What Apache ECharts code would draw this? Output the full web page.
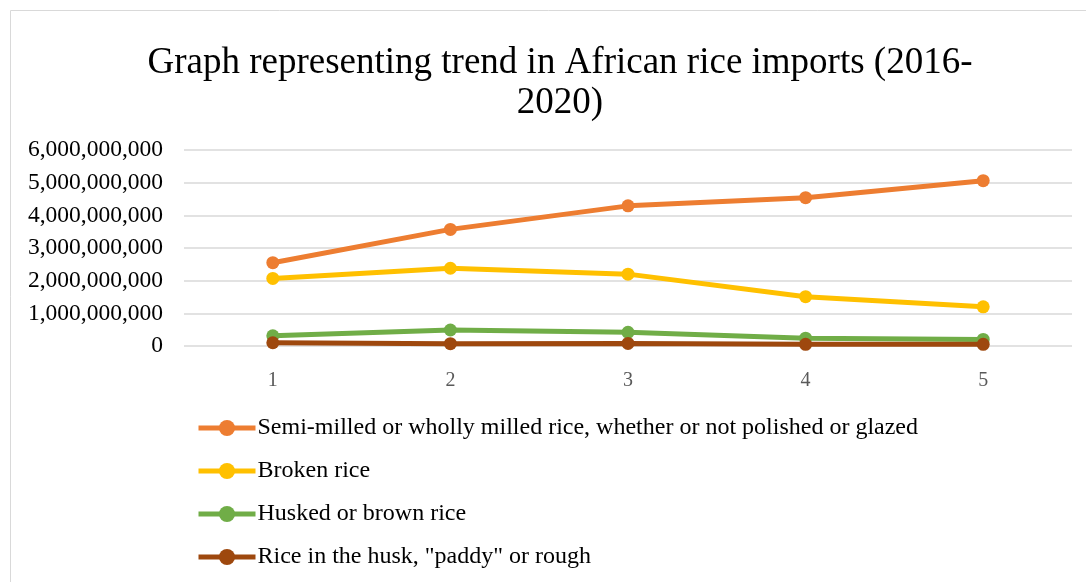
<!DOCTYPE html>
<html><head><meta charset="utf-8">
<script src="https://cdn.jsdelivr.net/npm/echarts@6/dist/echarts.min.js"></script>
<style>html,body{margin:0;padding:0;background:#fff}#c{width:1086px;height:582px}</style>
</head><body><div id="c"></div>
<script>
const categories = ['1','2','3','4','5'];
const seriesNames = [
  'Semi-milled or wholly milled rice, whether or not polished or glazed',
  'Broken rice',
  'Husked or brown rice',
  'Rice in the husk, "paddy" or rough'
];
const semiMilled = [2550000000, 3570000000, 4290000000, 4540000000, 5060000000];
const brokenRice = [2070000000, 2380000000, 2200000000, 1510000000, 1200000000];
const huskedRice = [310000000, 490000000, 420000000, 240000000, 200000000];
const paddyRice = [100000000, 70000000, 80000000, 50000000, 50000000];
const colors = ['#ED7D31', '#FFC000', '#70AD47', '#9E480E'];
const dataList = [semiMilled, brokenRice, huskedRice, paddyRice];
const font = '"Liberation Serif", "Times New Roman", serif';

const chart = echarts.init(document.getElementById('c'));
chart.setOption({
  animation: false,
  textStyle: {fontFamily: font},
  graphic: [{type:'rect', shape:{x:10.5,y:10.5,width:1090,height:600}, style:{fill:'none', stroke:'#d9d9d9', lineWidth:1}, silent:true}],
  title: {
    text: 'Graph representing trend in African rice imports (2016-\n2020)',
    left: 555, textAlign: 'center', top: 38,
    textStyle: {fontFamily: font, fontSize: 37, fontWeight: 'normal', color: '#000', lineHeight: 40}
  },
  grid: {left: 184, right: 14, top: 150, bottom: 236},
  legend: {
    orient: 'vertical', left: 196, top: 416, height: 170, padding: 0,
    itemWidth: 57, itemHeight: 20, itemGap: 19,
    lineStyle: {width: 5},
    textStyle: {fontFamily: font, fontSize: 24, color: '#000', padding: [0,0,0,-3]},
    data: seriesNames
  },
  xAxis: {
    type: 'category', data: categories, boundaryGap: true,
    axisLine: {show: false}, axisTick: {show: false},
    axisLabel: {fontFamily: font, fontSize: 20, color: '#595959', margin: 25}
  },
  yAxis: {
    type: 'value', min: 0, max: 6000000000, interval: 1000000000,
    axisLine: {show: false}, axisTick: {show: false},
    splitLine: {lineStyle: {color: '#d9d9d9', width: 1.5}},
    axisLabel: {fontFamily: font, fontSize: 23.5, color: '#000', margin: 21,
      formatter: v => v.toLocaleString('en-US')}
  },
  series: seriesNames.map((n, i) => ({
    name: n, type: 'line', data: dataList[i],
    symbol: 'circle', symbolSize: 13,
    lineStyle: {width: 5, color: colors[i]},
    itemStyle: {color: colors[i]}
  }))
});
</script></body></html>
